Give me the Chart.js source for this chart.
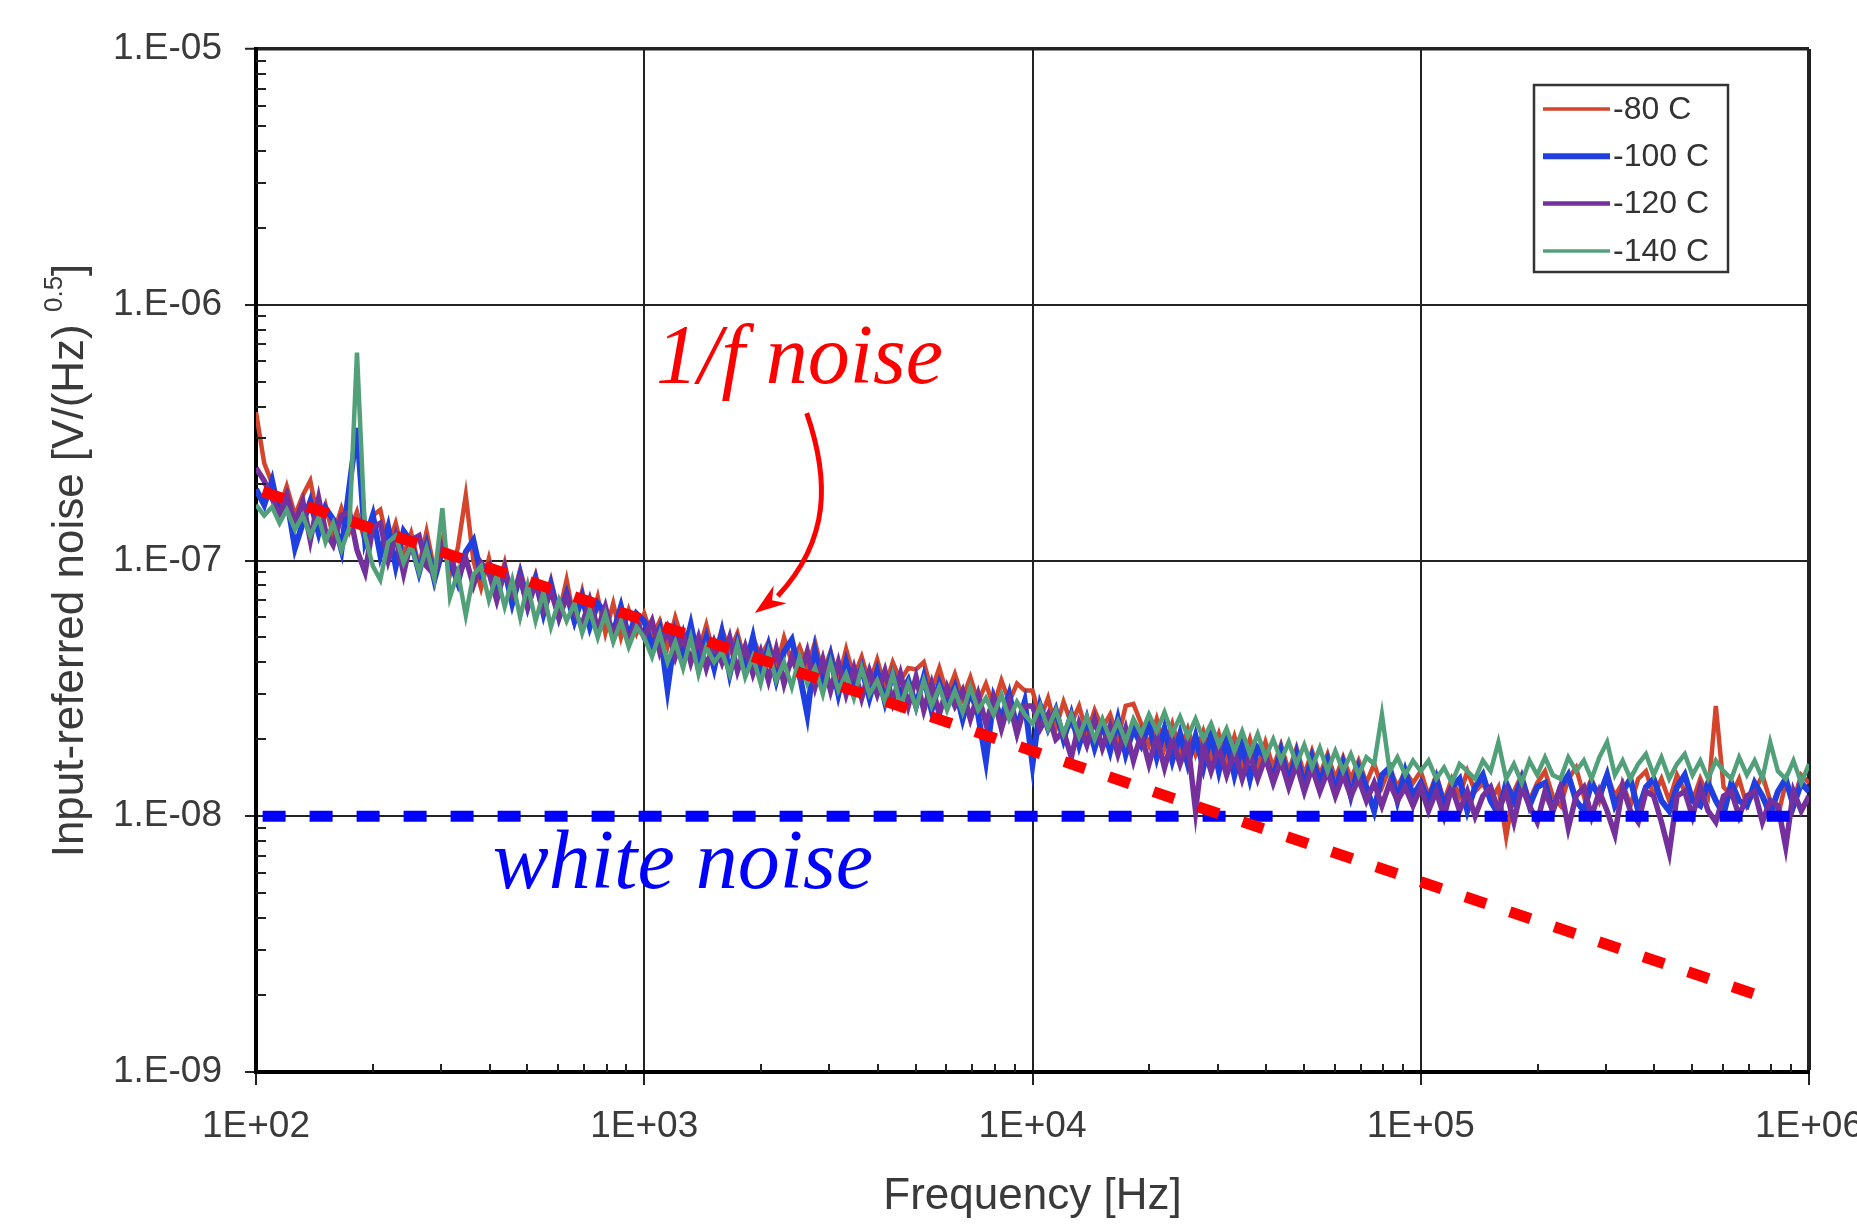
<!DOCTYPE html>
<html>
<head>
<meta charset="utf-8">
<title>Input-referred noise vs frequency</title>
<script src="https://cdn.jsdelivr.net/npm/chart.js@4.4.1/dist/chart.umd.min.js"></script>
<style>
html,body{margin:0;padding:0;background:#fff;overflow:hidden;}
canvas{display:block;}
</style>
</head>
<body>
<canvas id="c" width="1857" height="1225"></canvas>
<script>
// ---------------- data ----------------
const frequencies = [
  100, 105, 110, 115, 120, 126, 132, 138, 145, 151, 158, 166, 174, 182, 191, 200, 209, 219, 229, 240,
  251, 263, 275, 288, 302, 316, 331, 347, 363, 380, 398, 417, 437, 457, 479, 501, 525, 550, 575, 603,
  631, 661, 692, 724, 759, 794, 832, 871, 912, 955,
  1000, 1047, 1096, 1148, 1202, 1259, 1318, 1380, 1445, 1514, 1585, 1660, 1738, 1820, 1905, 1995, 2089, 2188, 2291, 2399,
  2512, 2630, 2754, 2884, 3020, 3162, 3311, 3467, 3631, 3802, 3981, 4169, 4365, 4571, 4786, 5012, 5248, 5495, 5754, 6026,
  6310, 6607, 6918, 7244, 7586, 7943, 8318, 8710, 9120, 9550,
  10000, 10471, 10965, 11482, 12023, 12589, 13183, 13804, 14454, 15136, 15849, 16596, 17378, 18197, 19055, 19953, 20893, 21878, 22909, 23988,
  25119, 26303, 27542, 28840, 30200, 31623, 33113, 34674, 36308, 38019, 39811, 41687, 43652, 45709, 47863, 50119, 52481, 54954, 57544, 60256,
  63096, 66069, 69183, 72444, 75858, 79433, 83176, 87096, 91201, 95499,
  100000, 104713, 109648, 114815, 120226, 125893, 131826, 138038, 144544, 151356, 158489, 165959, 173780, 181970, 190546, 199526, 208930, 218776, 229087, 239883,
  251189, 263027, 275423, 288403, 301995, 316228, 331131, 346737, 363078, 380189, 398107, 416869, 436516, 457088, 478630, 501187, 524807, 549541, 575440, 602560,
  630957, 660693, 691831, 724436, 758578, 794328, 831764, 870964, 912011, 954993, 1000000
];
const seriesLabels = ['-80 C', '-100 C', '-120 C', '-140 C'];
// values in nV/(Hz)^0.5, one per frequency
const noise80 = [
  380, 240, 200, 160, 195, 150, 180, 205, 140, 165, 125, 160, 130, 155, 118, 150, 158, 115, 140, 105,
  128, 95, 130, 92, 120, 88, 112, 180, 100, 78, 102, 76, 98, 70, 92, 72, 88, 66, 84, 62,
  84, 58, 76, 56, 72, 52, 68, 50, 64, 52,
  62, 50, 58, 46, 60, 48, 55, 44, 56, 42, 54, 44, 52, 40, 50, 42, 48, 38, 50, 40,
  46, 38, 48, 36, 44, 34, 45, 35, 42, 33, 41, 32, 40, 34, 38, 37.5, 40, 31, 38, 30,
  36, 29, 35, 28, 33, 27, 34, 28, 33, 31,
  31, 24, 29, 22, 28, 23, 27, 21, 26, 22, 25, 20, 27, 27.5, 23, 19, 24, 18.5, 23, 18,
  22, 17.5, 21.5, 17, 21, 16.5, 20.5, 16, 20, 15.5, 19.5, 15.5, 19, 15, 18.5, 14.5, 18, 14.5, 17.5, 14,
  17, 14, 16.5, 13.5, 16, 13, 15.5, 13, 15, 13.5,
  15, 12, 14.5, 11.5, 14, 12, 15, 12.5, 13.5, 11.5, 13, 8.3, 12.5, 14.5, 11.5, 13.5, 15, 12, 11, 14,
  15.5, 12, 14, 11.5, 14.5, 12, 13.5, 11, 14, 15, 12, 14, 11.5, 14.5, 12.5, 11.5, 14, 12, 27, 13,
  12, 14, 11, 12.5, 14.5, 11.5, 10, 13.5, 11.5, 14.5, 13.5
];
const noise100 = [
  190, 165, 205, 150, 175, 112, 140, 170, 128, 160, 145, 110, 194, 330, 120, 150, 105, 135, 95, 130,
  118, 90, 115, 84, 110, 100, 82, 108, 120, 88, 95, 72, 92, 68, 88, 66, 84, 62, 80, 60,
  74, 58, 72, 55, 68, 62, 52, 66, 50, 62,
  58, 46, 54, 31.5, 52, 42, 56, 40, 50, 38, 52, 36, 48, 38, 50, 35, 46, 34, 44, 49,
  36, 25, 44, 32, 42, 30, 40, 31, 38, 29, 37, 28, 36, 30, 34, 27, 35, 26, 33, 27,
  32, 24, 31, 25, 16.5, 29, 24, 30, 22, 28,
  16, 27, 22, 26, 20, 25, 19, 24, 18.5, 23, 18, 24, 17.5, 22, 19, 23, 17, 22, 16.5, 21,
  16, 20.5, 15.5, 21, 15, 20, 14.5, 19, 14, 18.5, 17, 14, 18, 13.5, 17.5, 13, 17, 13.5, 16.5, 12.5,
  16, 12, 15.5, 13, 10.5, 14.5, 15.5, 11.5, 15, 12,
  13.5, 11.5, 14, 11, 13, 14, 10.5, 13, 14.5, 11.5, 10.2, 13.5, 11.5, 14, 11, 13, 13.5, 10.5, 13, 14.5,
  11.5, 10.5, 13.5, 12, 14.5, 11, 12.5, 14, 10.5, 13, 14, 11.5, 10.5, 13, 14.5, 11.5, 11, 13.5, 11.5, 10.2,
  13.5, 11.5, 11, 13.5, 12, 10.2, 12.5, 14, 11, 13.5, 12.5
];
const noise120 = [
  230, 205, 175, 150, 180, 140, 170, 120, 175, 130, 115, 150, 155, 110, 90, 135, 140, 100, 125, 89,
  120, 125, 95, 88, 115, 105, 85, 102, 80, 98, 90, 70, 92, 74, 86, 66, 82, 64, 76, 60,
  72, 62, 56, 70, 54, 66, 50, 62, 48, 58,
  50, 58, 44, 54, 42, 52, 40, 50, 38, 48, 40, 50, 37, 46, 36, 44, 34, 45, 33, 42,
  35, 44, 32, 41, 31, 40, 30, 38, 29, 37, 30, 37, 28, 36, 27, 35, 26, 33, 25, 32,
  27, 31, 24, 30, 23, 29, 22, 28, 21, 27,
  27, 22, 25, 20, 21.5, 17, 23, 19, 24, 18.5, 22.5, 17.5, 22, 16.5, 21, 16, 20.5, 15.5, 20, 16,
  19.5, 10.5, 19, 15, 18.5, 14.5, 18, 14, 17.5, 14, 17, 13.5, 16.5, 13, 16, 12.5, 15.5, 12.5, 15, 12,
  14.5, 12, 14, 11.5, 13.5, 11, 13.5, 11.5, 13, 11,
  13, 10.5, 12.5, 10, 13, 10.5, 12.5, 10, 12, 13, 10.5, 12.5, 9.5, 13, 11, 9.5, 12.5, 10.5, 13, 9,
  12, 13, 10, 12.5, 10.5, 8.5, 13, 10.5, 9.5, 12.5, 12, 9.5, 7.2, 12, 12.5, 10, 13, 10.5, 9.5, 12,
  12.5, 10, 12, 12.5, 9.5, 11.5, 11, 7.6, 12.5, 10.5, 12
];
const noise140 = [
  165, 150, 162, 140, 158, 132, 150, 125, 148, 118, 140, 110, 135, 650, 125, 95, 84, 118, 125, 98,
  115, 90, 112, 85, 160, 72, 90, 61, 88, 95, 70, 88, 66, 84, 60, 80, 58, 75, 55, 70,
  58, 68, 52, 64, 50, 62, 48, 58, 46, 55,
  50, 42, 52, 40, 48, 38, 50, 36, 46, 40, 44, 36, 47, 35, 42, 33, 44, 34, 40, 32,
  42, 33, 38, 30, 40, 31, 36, 29, 38, 30, 34, 28, 36, 27, 33, 26.5, 34, 27, 32, 26,
  31, 25.5, 32, 26, 29, 25, 30, 24, 28, 25,
  23, 27, 22, 26, 21, 25, 20.5, 24.5, 20, 24, 20, 23.5, 19.5, 24, 21, 25, 21.5, 25.5, 21, 24.5,
  20.5, 24, 20, 23, 19, 22, 18, 21.5, 17.5, 21, 17, 20, 16.5, 19.5, 16, 19, 15.5, 18.5, 15, 18,
  15, 17.5, 14.5, 17, 16, 25, 15, 17, 14.5, 16.5,
  15, 16.5, 14, 15.5, 13.5, 16, 15, 14, 16.5, 15, 19.5, 14, 16, 13.5, 16.5, 14.5, 17, 14.5, 14, 17,
  15, 16.5, 14, 17, 19.5, 14.5, 16.5, 14, 16, 17.5, 14.5, 17, 14, 16, 17.5, 14.5, 16.5, 14, 16.5, 15,
  14, 17, 14.5, 16.5, 14, 19.5, 15, 14, 16.5, 13.5, 16
];
// guide lines (V/(Hz)^0.5)
const oneOverFFreq = [104, 757000];
const oneOverFValue = [1.86e-7, 1.97e-9];
const whiteFreq = [104, 980000];
const whiteValue = [1e-8, 1e-8];
// axes
const xTickValues = [1e2, 1e3, 1e4, 1e5, 1e6];
const xTickLabels = ['1E+02', '1E+03', '1E+04', '1E+05', '1E+06'];
const yTickValues = [1e-9, 1e-8, 1e-7, 1e-6, 1e-5];
const yTickLabels = ['1.E-09', '1.E-08', '1.E-07', '1.E-06', '1.E-05'];
const xTitle = 'Frequency [Hz]';
const yTitleMain = 'Input-referred noise [V/(Hz) ';
const yTitleSup = '0.5';
const yTitleEnd = ']';
const noteOneOverF = '1/f noise';
const noteWhite = 'white noise';

// ---------------- styles ----------------
const sansFont = "'Liberation Sans', Arial, Helvetica, sans-serif";
const serifFont = "'Liberation Serif', 'Times New Roman', serif";
const axisColor = '#3a3a3a';
const gridColor = '#222222';
const seriesValues = [noise80, noise100, noise120, noise140];
const seriesColors = ['#d4452c', '#1f3fe0', '#74309c', '#52a07a'];
const seriesWidths = [4.5, 6, 5.5, 4.5];
const legendWidths = [3.5, 6, 4.5, 3.5];
const seriesOrder = [5, 4, 3, 2];

const datasets = seriesLabels.map((label, k) => ({
  label: label,
  data: frequencies.map((f, i) => ({ x: f, y: seriesValues[k][i] * 1e-9 })),
  borderColor: seriesColors[k],
  backgroundColor: seriesColors[k],
  borderWidth: seriesWidths[k],
  pointRadius: 0,
  fill: false,
  tension: 0,
  order: seriesOrder[k]
}));
datasets.push({
  label: noteOneOverF,
  data: oneOverFFreq.map((f, i) => ({ x: f, y: oneOverFValue[i] })),
  borderColor: '#ff0000', borderWidth: 11, borderDash: [22, 25], borderCapStyle: 'butt',
  pointRadius: 0, fill: false, order: 0
});
datasets.push({
  label: noteWhite,
  data: whiteFreq.map((f, i) => ({ x: f, y: whiteValue[i] })),
  borderColor: '#0000ff', borderWidth: 11, borderDash: [23, 24], borderCapStyle: 'butt',
  pointRadius: 0, fill: false, order: 1
});

// ---------------- plugins ----------------
const bgPlugin = {
  id: 'bg',
  beforeDraw(chart) {
    const c = chart.ctx;
    c.save(); c.fillStyle = '#ffffff'; c.fillRect(0, 0, chart.width, chart.height); c.restore();
  }
};

const minorTicks = {
  id: 'minorTicks',
  afterDatasetsDraw(chart) {
    const c = chart.ctx, a = chart.chartArea, xs = chart.scales.x, ys = chart.scales.y;
    c.save();
    c.strokeStyle = gridColor; c.lineWidth = 2;
    c.beginPath();
    for (let e = 2; e < 6; e++) {
      for (let m = 2; m < 10; m++) {
        const px = Math.round(xs.getPixelForValue(m * Math.pow(10, e)));
        c.moveTo(px, a.bottom); c.lineTo(px, a.bottom - 8);
      }
    }
    for (let e = -9; e < -5; e++) {
      for (let m = 2; m < 10; m++) {
        const py = Math.round(ys.getPixelForValue(m * Math.pow(10, e)));
        c.moveTo(a.left, py); c.lineTo(a.left + 10, py);
      }
    }
    c.stroke();
    c.restore();
  }
};

const notes = {
  id: 'notes',
  afterDatasetsDraw(chart) {
    const c = chart.ctx, xs = chart.scales.x, ys = chart.scales.y;
    const P = (f, v) => [xs.getPixelForValue(f), ys.getPixelForValue(v)];
    c.save();
    c.font = 'italic 84px ' + serifFont;
    c.textAlign = 'left'; c.textBaseline = 'alphabetic';
    c.fillStyle = '#ff0000';
    let t = P(1072, 4.94e-7);
    c.fillText(noteOneOverF, t[0], t[1]);
    c.fillStyle = '#0000ff';
    t = P(407, 5.24e-9);
    c.fillText(noteWhite, t[0], t[1]);
    // curved arrow
    const s = P(2621, 3.77e-7), c1 = P(3006, 2.06e-7), c2 = P(3006, 1.20e-7), e = P(2208, 7.26e-8), tip = P(1926, 6.23e-8);
    c.strokeStyle = '#ff0000'; c.lineWidth = 5; c.lineCap = 'butt';
    c.beginPath(); c.moveTo(s[0], s[1]); c.bezierCurveTo(c1[0], c1[1], c2[0], c2[1], e[0], e[1]); c.stroke();
    const dx = tip[0] - e[0], dy = tip[1] - e[1], L = Math.hypot(dx, dy), ux = dx / L, uy = dy / L, hw = 11;
    c.fillStyle = '#ff0000';
    c.beginPath();
    c.moveTo(tip[0], tip[1]);
    c.lineTo(e[0] - uy * hw - ux * 3, e[1] + ux * hw - uy * 3);
    c.lineTo(e[0] + ux * L * 0.25, e[1] + uy * L * 0.25);
    c.lineTo(e[0] + uy * hw - ux * 3, e[1] - ux * hw - uy * 3);
    c.closePath(); c.fill();
    c.restore();
  }
};

const yTitle = {
  id: 'yTitle',
  afterDraw(chart) {
    const c = chart.ctx, a = chart.chartArea;
    const big = '44px ' + sansFont, small = '26px ' + sansFont;
    c.save();
    c.font = big; const w1 = c.measureText(yTitleMain).width, w3 = c.measureText(yTitleEnd).width;
    c.font = small; const w2 = c.measureText(yTitleSup).width;
    const total = w1 + w2 + w3;
    c.translate(83, (a.top + a.bottom) / 2);
    c.rotate(-Math.PI / 2);
    c.fillStyle = axisColor; c.textAlign = 'left'; c.textBaseline = 'alphabetic';
    let xx = -total / 2;
    c.font = big; c.fillText(yTitleMain, xx, 0); xx += w1;
    c.font = small; c.fillText(yTitleSup, xx, -21); xx += w2;
    c.font = big; c.fillText(yTitleEnd, xx, 0);
    c.restore();
  }
};

const legendBox = {
  id: 'legendBox',
  afterDraw(chart) {
    const c = chart.ctx;
    c.save();
    c.fillStyle = '#ffffff'; c.fillRect(1534, 85, 194, 187);
    c.strokeStyle = '#333333'; c.lineWidth = 2.5; c.strokeRect(1534, 85, 194, 187);
    c.font = '32px ' + sansFont; c.fillStyle = '#333333';
    c.textAlign = 'left'; c.textBaseline = 'middle';
    for (let k = 0; k < seriesLabels.length; k++) {
      const ds = chart.data.datasets[k];
      const yy = 109 + k * 47.3;
      c.strokeStyle = ds.borderColor; c.lineWidth = legendWidths[k];
      c.beginPath(); c.moveTo(1543, yy); c.lineTo(1610, yy); c.stroke();
      c.fillText(ds.label, 1613, yy + 1);
    }
    c.restore();
  }
};

// ---------------- chart ----------------
new Chart(document.getElementById('c').getContext('2d'), {
  type: 'line',
  data: { datasets: datasets },
  options: {
    responsive: false,
    animation: false,
    devicePixelRatio: 1,
    layout: { padding: { left: 0, top: 49, right: 48, bottom: 0 } },
    plugins: { legend: { display: false }, tooltip: { enabled: false }, title: { display: false } },
    scales: {
      x: {
        type: 'logarithmic', min: 100, max: 1e6, position: 'bottom',
        afterBuildTicks: s => { s.ticks = xTickValues.map(v => ({ value: v })); },
        afterFit: s => { s.height = 153; s.paddingLeft = 0; s.paddingRight = 0; },
        ticks: {
          autoSkip: false, maxRotation: 0, minRotation: 0, padding: 20, color: axisColor,
          font: { family: sansFont, size: 37 },
          callback: (v, i) => xTickLabels[i]
        },
        grid: {
          color: gridColor,
          lineWidth: ctx => (ctx.tick && ctx.tick.value === 1e6) ? 4 : 2,
          tickLength: 13, tickColor: gridColor, tickWidth: 2
        },
        border: { display: true, color: '#000000', width: 4 },
        title: { display: true, text: xTitle, color: axisColor, font: { family: sansFont, size: 44 }, padding: { top: 0, bottom: 2 } }
      },
      y: {
        type: 'logarithmic', min: 1e-9, max: 1e-5, position: 'left',
        afterBuildTicks: s => { s.ticks = yTickValues.map(v => ({ value: v })); },
        afterFit: s => { s.width = 256; s.paddingTop = 0; s.paddingBottom = 0; },
        ticks: {
          autoSkip: false, padding: 23, color: axisColor,
          font: { family: sansFont, size: 37 },
          callback: (v, i) => yTickLabels[i]
        },
        grid: {
          color: gridColor,
          lineWidth: ctx => (ctx.tick && ctx.tick.value === 1e-5) ? 3.5 : 2,
          tickLength: 11, tickColor: gridColor, tickWidth: 2
        },
        border: { display: true, color: '#000000', width: 4 },
        title: { display: false }
      }
    }
  },
  plugins: [bgPlugin, minorTicks, notes, yTitle, legendBox]
});
</script>
</body>
</html>
